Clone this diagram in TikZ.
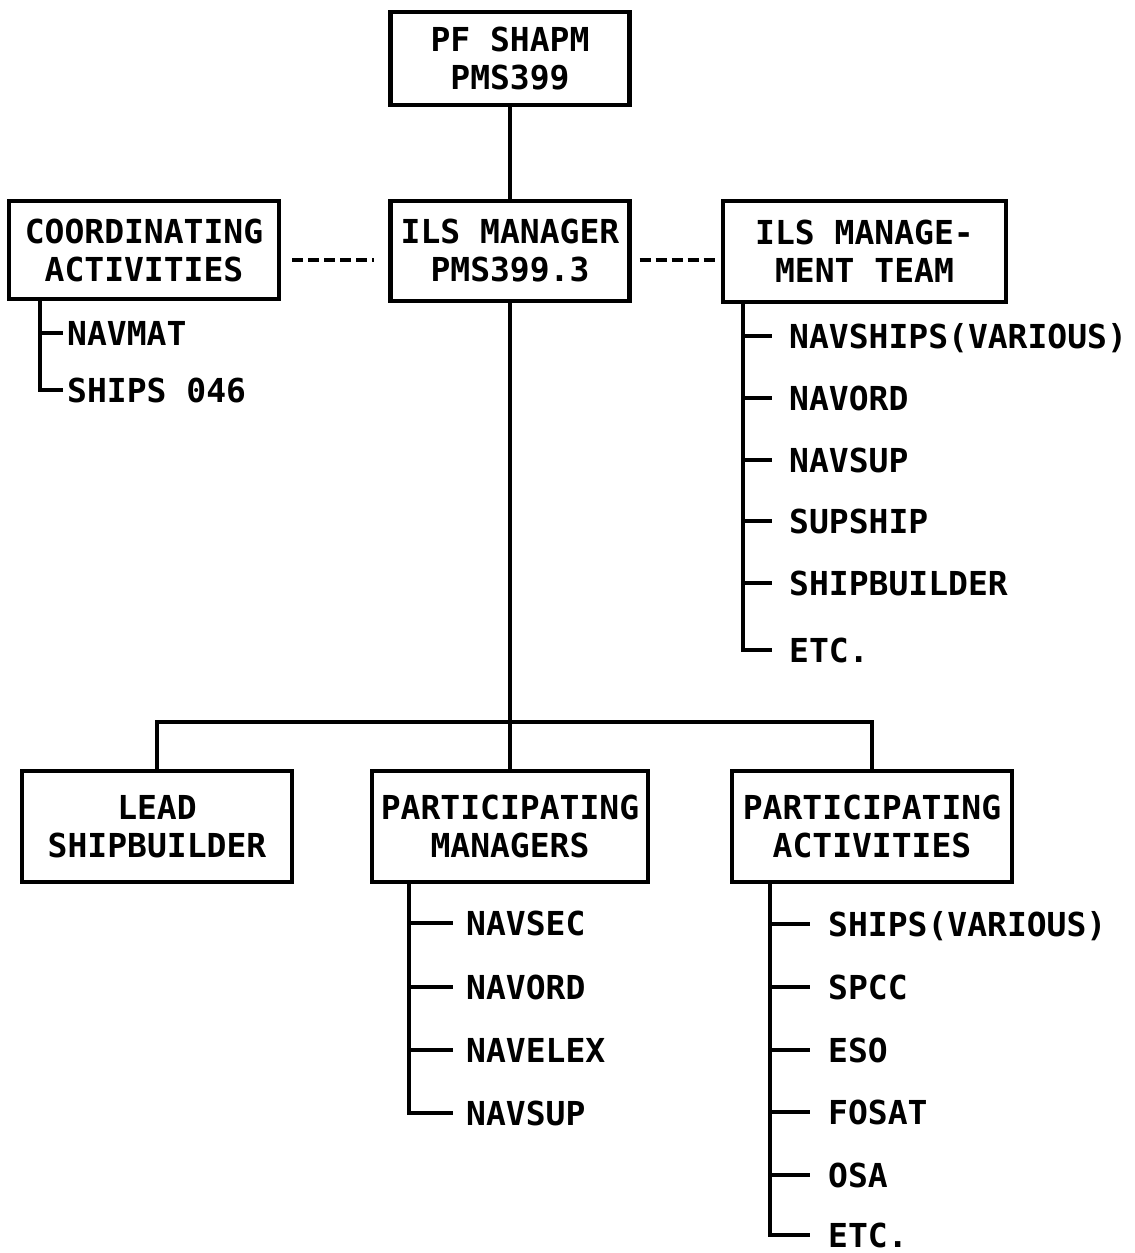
\documentclass[tikz,border=0pt]{standalone}
\usepackage{fontspec}
\newfontfamily\lettering{DejaVu Sans Mono}
\begin{document}
\begin{tikzpicture}[x=1pt,y=-1pt,
  every node/.style={font=\lettering\bfseries\fontsize{33}{38}\selectfont},
  box/.style={draw, line width=4.2pt, align=center, inner sep=0pt},
  item/.style={anchor=west, inner sep=0pt, text height=24pt, text depth=0pt},
  conn/.style={line width=3.6pt},
  rel/.style={line width=3.8pt, dash pattern=on 11pt off 5pt},
]
\useasboundingbox[fill=white] (0,0) rectangle (1135,1253);

% boxes
\node[box, minimum width=239pt, minimum height=93pt] (top) at (510,58.5) {PF SHAPM\\PMS399};
\node[box, minimum width=270pt, minimum height=98pt] (coord) at (144,250) {COORDINATING\\ACTIVITIES};
\node[box, minimum width=239pt, minimum height=100pt] (ilsm) at (510,251) {ILS MANAGER\\PMS399.3};
\node[box, minimum width=283pt, minimum height=101pt] (team) at (864.5,251.5) {ILS MANAGE-\\MENT TEAM};
\node[box, minimum width=270pt, minimum height=111pt] (lead) at (157,826.5) {LEAD\\SHIPBUILDER};
\node[box, minimum width=276pt, minimum height=111pt] (pmgr) at (510,826.5) {PARTICIPATING\\MANAGERS};
\node[box, minimum width=280pt, minimum height=111pt] (pact) at (872,826.5) {PARTICIPATING\\ACTIVITIES};

% main connectors
\coordinate (bus) at (510,722);
\draw[conn] (top.south) -- (ilsm.north);
\draw[conn] (ilsm.south) -- (pmgr.north);
\draw[conn] (lead.north) |- (bus) -| (pact.north);

% dashed relations
\draw[rel, shorten <=11pt, shorten >=14pt] (coord.east |- 0,260) -- (ilsm.west |- 0,260);
\draw[rel, shorten <=8pt, shorten >=4pt] (ilsm.east |- 0,260) -- (team.west |- 0,260);

% coordinating activities list
\coordinate (cl) at (coord.south -| 40,0);
\node[item] (c1) at (67,333) {NAVMAT};
\node[item] (c2) at (67,390) {SHIPS 046};
\draw[conn] (cl) |- ([xshift=-4pt]c2.west);
\draw[conn] (cl |- c1.west) -- ([xshift=-4pt]c1.west);

% ILS management team list
\coordinate (tl) at (team.south -| 743,0);
\foreach \n/\y/\t in {t1/336/{NAVSHIPS(VARIOUS)},t2/398/NAVORD,t3/460/NAVSUP,t4/521/SUPSHIP,t5/583/SHIPBUILDER,t6/650/ETC.}
  \node[item] (\n) at (789,\y) {\t};
\draw[conn] (tl) |- ([xshift=-17pt]t6.west);
\foreach \n in {t1,t2,t3,t4,t5}
  \draw[conn] (tl |- \n.west) -- ([xshift=-17pt]\n.west);

% participating managers list
\coordinate (ml) at (pmgr.south -| 409,0);
\foreach \n/\y/\t in {m1/923/NAVSEC,m2/987/NAVORD,m3/1050/NAVELEX,m4/1113/NAVSUP}
  \node[item] (\n) at (466,\y) {\t};
\draw[conn] (ml) |- ([xshift=-13pt]m4.west);
\foreach \n in {m1,m2,m3}
  \draw[conn] (ml |- \n.west) -- ([xshift=-13pt]\n.west);

% participating activities list
\coordinate (al) at (pact.south -| 770,0);
\foreach \n/\y/\t in {a1/924/{SHIPS(VARIOUS)},a2/987/SPCC,a3/1050/ESO,a4/1112/FOSAT,a5/1175/OSA,a6/1235/ETC.}
  \node[item] (\n) at (828,\y) {\t};
\draw[conn] (al) |- ([xshift=-18pt]a6.west);
\foreach \n in {a1,a2,a3,a4,a5}
  \draw[conn] (al |- \n.west) -- ([xshift=-18pt]\n.west);
\end{tikzpicture}
\end{document}
